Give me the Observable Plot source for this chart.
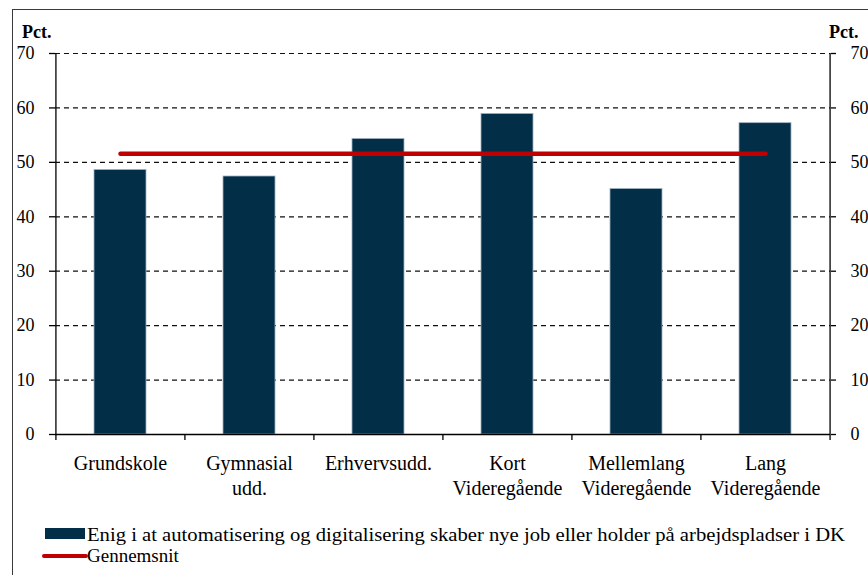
<!DOCTYPE html>
<html><head><meta charset="utf-8">
<script src="https://cdn.jsdelivr.net/npm/d3@7"></script>
<script src="https://cdn.jsdelivr.net/npm/@observablehq/plot@0.6"></script>
<style>
body{margin:0;overflow:hidden;background:#fff;}
#wrap{position:relative;width:868px;height:575px;overflow:hidden;font-family:"Liberation Serif",serif;color:#000;}
#border{position:absolute;left:12px;top:9px;width:900px;height:600px;border:1.5px solid #3a3a3a;box-sizing:border-box;}
.pct{position:absolute;top:23px;font-weight:bold;font-size:18px;line-height:18px;}
#chart,#legend{position:absolute;left:0;top:0;}
</style></head><body>
<div id="wrap">
<div id="border"></div>
<div class="pct" style="left:22px">Pct.</div>
<div class="pct" style="left:829px">Pct.</div>
<div id="chart"></div>
<div id="legend"></div>
</div>
<script>
const categories = ["Grundskole","Gymnasial udd.","Erhvervsudd.","Kort Videregående","Mellemlang Videregående","Lang Videregående"];
const tickLabels = ["Grundskole","Gymnasial\nudd.","Erhvervsudd.","Kort\nVideregående","Mellemlang\nVideregående","Lang\nVideregående"];
const values = [48.6, 47.4, 54.3, 58.9, 45.1, 57.2];
const average = 51.6;
const yTicks = [0,10,20,30,40,50,60,70];
const legendLabels = ["Enig i at automatisering og digitalisering skaber nye job eller holder på arbejdspladser i DK","Gennemsnit"];

const barColor = "#032e47";
const lineColor = "#c00000";

const W = 868, H = 510, mL = 55, mR = 38, mT = 53, mB = 76;
const step = (W - mL - mR) / categories.length;

const bars = categories.map((c, i) => ({cat: c, value: values[i]}));
const avgData = [categories[0], categories[categories.length - 1]].map(c => ({cat: c, value: average}));
const labelOf = new Map(categories.map((c, i) => [c, tickLabels[i]]));
const boundaries = categories.map((c, i) => ({cat: c, dx: -step / 2}))
  .concat([{cat: categories[categories.length - 1], dx: step / 2}]);

const font = "Liberation Serif";
const chart = Plot.plot({
  width: W, height: H,
  marginLeft: mL, marginRight: mR, marginTop: mT, marginBottom: mB,
  style: {fontFamily: font, background: "transparent", color: "#000"},
  x: {domain: categories, paddingInner: 0.6, paddingOuter: 0.3, label: null},
  y: {domain: [0, 70], label: null},
  marks: [
    Plot.gridY(yTicks, {stroke: "#111", strokeOpacity: 1, strokeWidth: 1.2, strokeDasharray: "5,4"}),
    Plot.barY(bars, {x: "cat", y: "value", fill: barColor, stroke: "#9fb2c2", strokeWidth: 0.8}),
    Plot.ruleY([0], {stroke: "#000", strokeWidth: 1.3}),
    ...boundaries.map(b => Plot.ruleX([b], {x: "cat", y1: 0, y2: 0, insetBottom: -6, dx: b.dx, stroke: "#000", strokeWidth: 1.3})),
    Plot.ruleX([boundaries[0]], {x: "cat", y1: 0, y2: 70, dx: boundaries[0].dx, stroke: "#000", strokeWidth: 1.3}),
    Plot.ruleX([boundaries[boundaries.length - 1]], {x: "cat", y1: 0, y2: 70, dx: boundaries[boundaries.length - 1].dx, stroke: "#000", strokeWidth: 1.3}),
    Plot.lineY(avgData, {x: "cat", y: "value", stroke: lineColor, strokeWidth: 4.5, strokeLinecap: "round"}),
    Plot.axisY(yTicks, {anchor: "left", tickSize: 6, tickPadding: 15, fontSize: 18, strokeWidth: 1.3, tickFormat: d => d}),
    Plot.axisY(yTicks, {anchor: "right", tickSize: 5, tickPadding: 15, fontSize: 18, strokeWidth: 1.3, tickFormat: d => d}),
    Plot.axisX({anchor: "bottom", tickSize: 0, tickPadding: 18, fontSize: 20, lineHeight: 1.25, letterSpacing: 0.1, tickFormat: d => labelOf.get(d)})
  ]
});
document.getElementById("chart").appendChild(chart);

// Legend
const svg = d3.select("#legend").append("svg").attr("width", W).attr("height", 575)
  .style("font-family", font);
svg.append("rect").attr("x", 45).attr("y", 528).attr("width", 40).attr("height", 11).attr("fill", barColor);
svg.append("text").attr("x", 87).attr("y", 541).attr("font-size", 19)
  .attr("textLength", 758).attr("lengthAdjust", "spacingAndGlyphs").text(legendLabels[0]);
svg.append("line").attr("x1", 44).attr("x2", 86).attr("y1", 556).attr("y2", 556)
  .attr("stroke", lineColor).attr("stroke-width", 4).attr("stroke-linecap", "round");
svg.append("text").attr("x", 87).attr("y", 562).attr("font-size", 19).text(legendLabels[1]);
</script>
</body></html>
